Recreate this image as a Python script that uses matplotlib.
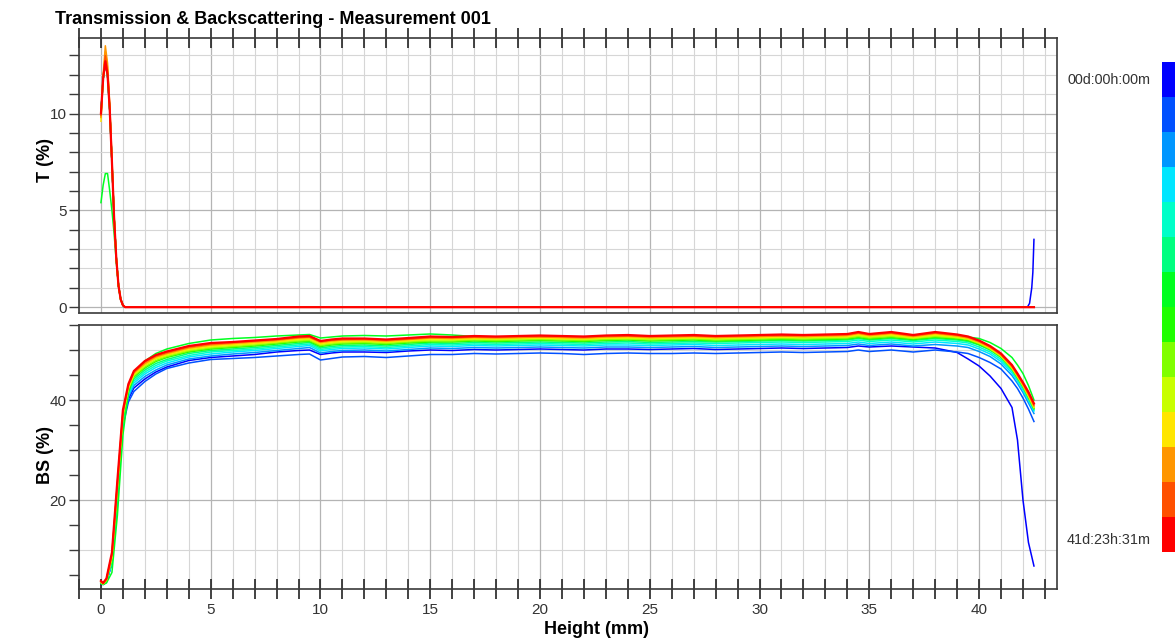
import matplotlib
matplotlib.use("Agg")
import matplotlib.pyplot as plt
import numpy as np
from matplotlib.ticker import MultipleLocator
from matplotlib.colors import ListedColormap

plt.rcParams['font.family'] = ['Liberation Sans', 'DejaVu Sans']

title = "Transmission & Backscattering - Measurement 001"
time_first = "00d:00h:00m"
time_last = "41d:23h:31m"
x_label = "Height (mm)"
t_label = "T (%)"
bs_label = "BS (%)"

scan_colors = ['#0000FF', '#0050FF', '#0096FF', '#00E6FF', '#00FFC8', '#00FF80', '#00FF20',
               '#20FF00', '#80FF00', '#C8FF00', '#FFE600', '#FF9600', '#FF5000', '#FF0000']

# ---------------- Transmission ----------------
height_t = [0, 0.1, 0.2, 0.3, 0.4, 0.5, 0.6, 0.7, 0.8, 0.9, 1.0, 1.1, 1.2, 42.2, 42.3, 42.4, 42.45, 42.5]
t_00 = [10.0, 11.8, 12.6, 12.0, 10.2, 7.5, 4.6, 2.5, 1.1, 0.4, 0.1, 0, 0, 0, 0.2, 1.0, 1.8, 3.5]
t_01 = [10.0, 11.8, 12.6, 12.0, 10.2, 7.5, 4.6, 2.5, 1.1, 0.4, 0.1, 0, 0, 0, 0, 0, 0, 0]
t_02 = [10.0, 11.8, 12.6, 12.0, 10.2, 7.5, 4.6, 2.5, 1.1, 0.4, 0.1, 0, 0, 0, 0, 0, 0, 0]
t_03 = [10.0, 11.8, 12.6, 12.0, 10.2, 7.5, 4.6, 2.5, 1.1, 0.4, 0.1, 0, 0, 0, 0, 0, 0, 0]
t_04 = [10.0, 11.8, 12.6, 12.0, 10.2, 7.5, 4.6, 2.5, 1.1, 0.4, 0.1, 0, 0, 0, 0, 0, 0, 0]
t_05 = [10.0, 11.8, 12.6, 12.0, 10.2, 7.5, 4.6, 2.5, 1.1, 0.4, 0.1, 0, 0, 0, 0, 0, 0, 0]
t_06 = [5.4, 6.3, 6.9, 6.9, 6.0, 5.0, 3.8, 2.3, 1.1, 0.4, 0.1, 0, 0, 0, 0, 0, 0, 0]
t_07 = [10.0, 11.8, 12.6, 12.0, 10.2, 7.5, 4.6, 2.5, 1.1, 0.4, 0.1, 0, 0, 0, 0, 0, 0, 0]
t_08 = [9.9, 11.8, 12.7, 12.0, 10.2, 7.5, 4.6, 2.5, 1.1, 0.4, 0.1, 0, 0, 0, 0, 0, 0, 0]
t_09 = [9.8, 11.8, 12.9, 12.2, 10.2, 7.5, 4.6, 2.5, 1.1, 0.4, 0.1, 0, 0, 0, 0, 0, 0, 0]
t_10 = [9.6, 11.8, 13.2, 12.4, 10.3, 7.6, 4.7, 2.5, 1.1, 0.4, 0.1, 0, 0, 0, 0, 0, 0, 0]
t_11 = [9.8, 12.0, 13.5, 12.6, 10.5, 7.7, 4.7, 2.5, 1.1, 0.4, 0.1, 0, 0, 0, 0, 0, 0, 0]
t_12 = [9.9, 11.9, 13.0, 12.2, 10.3, 7.5, 4.6, 2.5, 1.1, 0.4, 0.1, 0, 0, 0, 0, 0, 0, 0]
t_13 = [10.0, 11.8, 12.7, 12.0, 10.2, 7.5, 4.6, 2.5, 1.1, 0.4, 0.1, 0, 0, 0, 0, 0, 0, 0]

# ---------------- Backscattering ----------------
height_bs = [0, 0.1, 0.25, 0.5, 0.75, 1.0, 1.25, 1.5,
             2, 2.5, 3, 4, 5, 6, 7, 8, 9, 9.5,
             10, 10.5, 11, 12, 13, 14, 15, 16, 17, 18, 19, 20, 21, 22, 23, 24, 25, 26, 27, 28, 29, 30, 31, 32, 33, 34,
             34.5, 35, 36, 37, 38, 39, 39.5, 40, 40.5, 41, 41.5, 41.75, 42, 42.25, 42.5]

bs_00 = [3.3, 3.1, 3.6, 7.4, 20.5, 35.2, 40.2, 42.4,
         44.2, 45.6, 46.6, 47.9, 48.5, 48.8, 49.1, 49.6, 49.9, 50.0,
         49.1, 49.4, 49.6, 49.6, 49.5, 49.8, 50.0, 49.9, 50.1, 50.0, 50.1, 50.2, 50.1, 50.0, 50.2, 50.2, 50.1, 50.2, 50.3, 50.1, 50.2, 50.3, 50.4, 50.3, 50.4, 50.5,
         50.8, 50.6, 50.8, 50.6, 50.4, 49.5, 48.2, 46.8, 44.8, 42.3, 38.5, 32.0, 20.0, 11.5, 6.8]
bs_01 = [3.3, 3.1, 3.6, 7.3, 20.2, 34.8, 39.6, 41.7,
         43.7, 45.2, 46.3, 47.4, 48.1, 48.3, 48.5, 48.8, 49.1, 49.2,
         48.0, 48.3, 48.6, 48.7, 48.5, 48.8, 49.1, 49.1, 49.3, 49.2, 49.3, 49.4, 49.3, 49.1, 49.3, 49.4, 49.3, 49.3, 49.4, 49.3, 49.4, 49.5, 49.6, 49.5, 49.6, 49.7,
         50.0, 49.7, 50.0, 49.6, 50.0, 49.6, 49.3, 48.5, 47.5, 46.2, 43.8, 42.3, 40.4, 38.2, 35.7]
bs_02 = [3.4, 3.2, 3.7, 7.5, 20.8, 35.5, 40.6, 42.9,
         44.7, 46.0, 47.0, 48.2, 48.8, 49.2, 49.5, 49.9, 50.3, 50.5,
         49.4, 49.7, 49.9, 50.0, 49.8, 50.1, 50.4, 50.3, 50.5, 50.4, 50.5, 50.6, 50.5, 50.4, 50.6, 50.6, 50.5, 50.6, 50.7, 50.5, 50.6, 50.7, 50.8, 50.7, 50.8, 50.9,
         51.2, 50.9, 51.2, 50.8, 51.1, 50.8, 50.5, 49.7, 48.7, 47.2, 44.9, 43.3, 41.5, 39.4, 37.3]
bs_03 = [3.4, 3.2, 3.7, 7.6, 21.0, 35.8, 41.0, 43.4,
         45.2, 46.5, 47.4, 48.6, 49.2, 49.6, 49.9, 50.3, 50.7, 50.9,
         49.8, 50.1, 50.3, 50.4, 50.2, 50.5, 50.8, 50.7, 50.9, 50.8, 50.9, 51.0, 50.9, 50.8, 51.0, 51.0, 50.9, 51.0, 51.1, 50.9, 51.0, 51.1, 51.2, 51.1, 51.2, 51.3,
         51.6, 51.3, 51.6, 51.2, 51.6, 51.3, 51.0, 50.2, 49.2, 47.7, 45.4, 43.8, 42.0, 39.9, 37.8]
bs_04 = [3.4, 3.2, 3.8, 7.8, 21.2, 36.0, 41.3, 43.8,
         45.6, 46.9, 47.8, 48.9, 49.6, 49.9, 50.2, 50.6, 51.0, 51.2,
         50.1, 50.4, 50.6, 50.7, 50.5, 50.8, 51.1, 51.0, 51.2, 51.1, 51.2, 51.3, 51.2, 51.1, 51.3, 51.4, 51.2, 51.3, 51.4, 51.3, 51.4, 51.5, 51.6, 51.5, 51.6, 51.7,
         52.0, 51.7, 52.0, 51.6, 52.0, 51.7, 51.4, 50.6, 49.6, 48.1, 45.8, 44.1, 42.3, 40.1, 38.0]
bs_05 = [3.4, 3.2, 3.8, 8.0, 21.5, 36.2, 41.6, 44.2,
         46.0, 47.3, 48.1, 49.3, 49.9, 50.2, 50.5, 50.9, 51.3, 51.5,
         50.4, 50.7, 50.9, 51.0, 50.8, 51.1, 51.4, 51.3, 51.5, 51.4, 51.5, 51.6, 51.5, 51.4, 51.6, 51.7, 51.5, 51.6, 51.7, 51.6, 51.7, 51.8, 51.9, 51.8, 51.9, 52.0,
         52.3, 52.0, 52.3, 51.9, 52.3, 52.0, 51.7, 51.0, 50.0, 48.5, 46.1, 44.4, 42.6, 40.4, 38.2]
bs_06 = [3.3, 3.1, 3.4, 5.5, 17.0, 33.0, 41.5, 45.0,
         47.8, 49.3, 50.2, 51.3, 52.0, 52.3, 52.5, 52.8, 53.0, 53.1,
         52.4, 52.6, 52.8, 52.9, 52.8, 53.0, 53.2, 53.0, 52.7, 52.3, 52.3, 52.4, 52.3, 52.2, 52.4, 52.5, 52.3, 52.4, 52.5, 52.3, 52.4, 52.5, 52.6, 52.5, 52.6, 52.7,
         53.0, 52.8, 53.0, 52.7, 53.0, 52.8, 52.6, 52.3, 51.5, 50.3, 48.5, 47.0, 45.3, 42.9, 40.0]
bs_07 = [3.5, 3.2, 3.9, 8.2, 22.0, 36.5, 42.0, 44.6,
         46.4, 47.7, 48.5, 49.6, 50.2, 50.5, 50.8, 51.2, 51.6, 51.7,
         50.7, 51.0, 51.2, 51.3, 51.1, 51.4, 51.6, 51.6, 51.8, 51.7, 51.8, 51.9, 51.8, 51.7, 51.9, 52.0, 51.8, 51.9, 52.0, 51.8, 51.9, 52.0, 52.1, 52.0, 52.1, 52.2,
         52.5, 52.2, 52.5, 52.1, 52.5, 52.2, 51.9, 51.1, 50.1, 48.6, 46.2, 44.5, 42.7, 40.6, 38.3]
bs_08 = [3.5, 3.2, 3.9, 8.4, 22.4, 36.8, 42.2, 44.8,
         46.6, 47.9, 48.7, 49.8, 50.4, 50.7, 51.0, 51.4, 51.8, 51.9,
         50.9, 51.2, 51.4, 51.5, 51.3, 51.6, 51.8, 51.8, 52.0, 51.9, 52.0, 52.1, 52.0, 51.9, 52.1, 52.2, 52.0, 52.1, 52.2, 52.0, 52.1, 52.2, 52.3, 52.2, 52.3, 52.4,
         52.7, 52.4, 52.7, 52.3, 52.7, 52.4, 52.1, 51.3, 50.2, 48.7, 46.3, 44.6, 42.8, 40.7, 38.4]
bs_09 = [3.5, 3.3, 4.0, 8.6, 22.7, 37.0, 42.4, 45.0,
         46.9, 48.2, 48.9, 50.0, 50.6, 50.9, 51.2, 51.6, 52.0, 52.1,
         51.1, 51.4, 51.6, 51.7, 51.5, 51.8, 52.0, 52.0, 52.2, 52.1, 52.2, 52.3, 52.2, 52.1, 52.3, 52.3, 52.2, 52.3, 52.4, 52.2, 52.3, 52.4, 52.5, 52.4, 52.5, 52.6,
         52.9, 52.6, 52.9, 52.4, 52.9, 52.5, 52.2, 51.4, 50.3, 48.8, 46.4, 44.7, 42.9, 40.8, 38.5]
bs_10 = [3.6, 3.3, 4.0, 8.8, 23.0, 37.2, 42.6, 45.2,
         47.1, 48.4, 49.1, 50.2, 50.8, 51.1, 51.4, 51.7, 52.2, 52.3,
         51.3, 51.6, 51.8, 51.9, 51.7, 51.9, 52.2, 52.2, 52.3, 52.3, 52.4, 52.4, 52.3, 52.3, 52.4, 52.5, 52.4, 52.4, 52.5, 52.4, 52.5, 52.5, 52.6, 52.6, 52.7, 52.7,
         53.1, 52.8, 53.1, 52.6, 53.1, 52.7, 52.3, 51.5, 50.4, 48.9, 46.5, 44.8, 43.0, 40.9, 38.6]
bs_11 = [3.6, 3.3, 4.1, 9.0, 23.2, 37.4, 42.8, 45.4,
         47.3, 48.6, 49.3, 50.4, 51.0, 51.3, 51.6, 51.9, 52.4, 52.5,
         51.5, 51.8, 52.0, 52.0, 51.8, 52.1, 52.4, 52.3, 52.5, 52.4, 52.5, 52.6, 52.5, 52.4, 52.6, 52.7, 52.5, 52.6, 52.7, 52.5, 52.6, 52.7, 52.8, 52.7, 52.8, 52.9,
         53.3, 52.9, 53.3, 52.7, 53.3, 52.8, 52.4, 51.6, 50.5, 49.0, 46.6, 44.9, 43.1, 41.1, 38.8]
bs_12 = [3.7, 3.4, 4.2, 9.2, 23.5, 37.6, 43.0, 45.6,
         47.6, 48.8, 49.5, 50.6, 51.2, 51.5, 51.8, 52.1, 52.5, 52.6,
         51.7, 52.0, 52.1, 52.2, 52.0, 52.2, 52.5, 52.5, 52.6, 52.6, 52.7, 52.7, 52.7, 52.6, 52.8, 52.8, 52.7, 52.8, 52.8, 52.7, 52.8, 52.9, 52.9, 52.9, 53.0, 53.1,
         53.4, 53.1, 53.4, 52.9, 53.4, 53.0, 52.6, 51.8, 50.7, 49.1, 46.8, 45.1, 43.3, 41.3, 39.0]
bs_13 = [3.8, 3.4, 4.3, 9.5, 24.0, 38.0, 43.2, 45.8,
         47.8, 49.0, 49.7, 50.8, 51.4, 51.6, 51.9, 52.2, 52.7, 52.8,
         51.8, 52.1, 52.3, 52.3, 52.1, 52.4, 52.7, 52.6, 52.8, 52.7, 52.8, 52.9, 52.8, 52.7, 52.9, 53.0, 52.8, 52.9, 53.0, 52.8, 52.9, 53.0, 53.1, 53.0, 53.1, 53.2,
         53.6, 53.2, 53.6, 53.0, 53.6, 53.1, 52.7, 51.9, 50.8, 49.3, 47.0, 45.3, 43.5, 41.6, 39.3]

t_curves = [t_00, t_01, t_02, t_03, t_04, t_05, t_06, t_07, t_08, t_09, t_10, t_11, t_12, t_13]
bs_curves = [bs_00, bs_01, bs_02, bs_03, bs_04, bs_05, bs_06, bs_07, bs_08, bs_09, bs_10, bs_11, bs_12, bs_13]

W, H = 1175, 641
fig = plt.figure(figsize=(W / 100, H / 100), dpi=100)
fig.patch.set_facecolor('white')

L, R = 79 / W, 1057 / W
ax_t = fig.add_axes([L, 1 - 313 / H, R - L, (313 - 38) / H])
ax_b = fig.add_axes([L, 1 - 589 / H, R - L, (589 - 325) / H])

spine_col = '#3a3a3a'
for ax in (ax_t, ax_b):
    ax.set_xlim(-1.0, 43.55)
    ax.xaxis.set_major_locator(MultipleLocator(5))
    ax.xaxis.set_minor_locator(MultipleLocator(1))
    ax.set_axisbelow(True)
    for s in ax.spines.values():
        s.set_color(spine_col)
        s.set_linewidth(1.2)
    ax.grid(which='major', axis='x', color='#b4b4b4', lw=0.9)
    ax.grid(which='minor', axis='x', color='#d6d6d6', lw=0.8)
    ax.tick_params(axis='y', which='both', direction='out', length=7, width=1.0,
                   color=spine_col, labelsize=11, labelcolor='#333333', pad=2)

# top panel
ax_t.set_ylim(-0.3, 13.9)
ax_t.yaxis.set_major_locator(MultipleLocator(5))
ax_t.yaxis.set_minor_locator(MultipleLocator(1))
ax_t.grid(which='major', axis='y', color='#b4b4b4', lw=0.9)
ax_t.grid(which='minor', axis='y', color='#d6d6d6', lw=0.8)
ax_t.tick_params(axis='x', which='both', direction='inout', length=14, width=1.2,
                 color='#222222', top=True, bottom=False, labeltop=False, labelbottom=False)
for ys, c in zip(t_curves, scan_colors):
    lw = 1.6 if c == '#FF0000' else 1.1
    ax_t.plot(height_t, ys, color=c, lw=lw, solid_joinstyle='round')

# bottom panel
ax_b.set_ylim(2.2, 55)
ax_b.yaxis.set_major_locator(MultipleLocator(20))
ax_b.yaxis.set_minor_locator(MultipleLocator(5))
ax_b.grid(which='major', axis='y', color='#b4b4b4', lw=0.9)
for gy in (10, 30, 50):
    ax_b.axhline(gy, color='#d6d6d6', lw=0.8, zorder=0.5)
ax_b.tick_params(axis='x', which='both', direction='inout', length=14, width=1.2,
                 color='#222222', top=False, bottom=True, labelsize=11,
                 labelcolor='#333333', pad=3)
for ys, c in zip(bs_curves, scan_colors):
    lw = 1.6 if c == '#FF0000' else 1.1
    ax_b.plot(height_bs, ys, color=c, lw=lw, solid_joinstyle='round')

# colour bar of scan times
cax = fig.add_axes([1162 / W, 1 - 552 / H, 0.03, (552 - 62) / H])
cax.imshow(np.arange(len(scan_colors)).reshape(-1, 1), cmap=ListedColormap(scan_colors),
           aspect='auto', interpolation='nearest')
cax.set_axis_off()
fig.text(1067 / W, 1 - 80 / H, time_first, fontsize=10.4, color='#333333', ha='left', va='center')
fig.text(1067 / W, 1 - 540 / H, time_last, fontsize=10.4, color='#333333', ha='left', va='center')

# texts
fig.text(55 / W, 1 - 20 / H, title, fontsize=13, fontweight='bold', ha='left', va='center')
fig.text(45 / W, 1 - 160 / H, t_label, fontsize=13, fontweight='bold', rotation=90, ha='center', va='center')
fig.text(45 / W, 1 - 455 / H, bs_label, fontsize=13, fontweight='bold', rotation=90, ha='center', va='center')
fig.text(596 / W, 1 - 630 / H, x_label, fontsize=13, fontweight='bold', ha='center', va='center')

fig.savefig('out.png', dpi=100, facecolor='white')
